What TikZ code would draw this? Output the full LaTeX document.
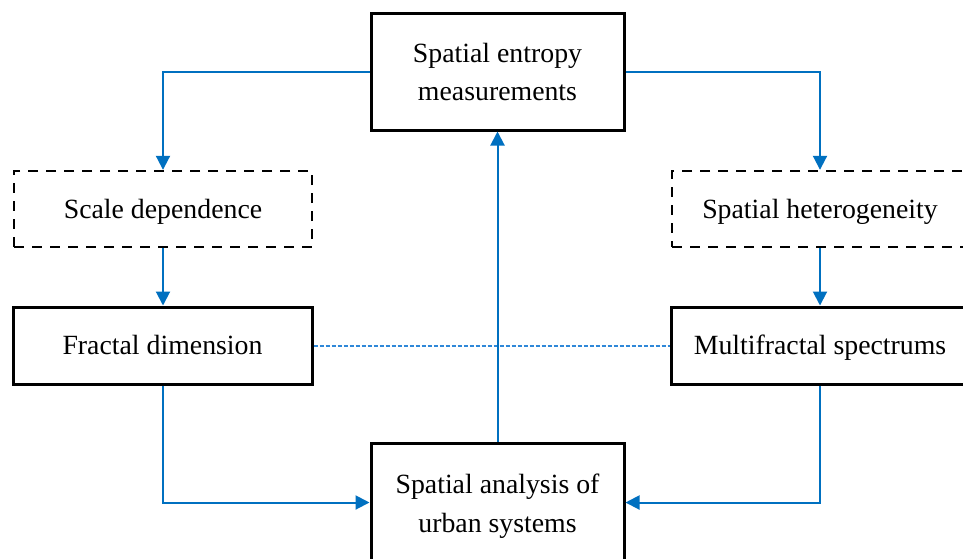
\documentclass[tikz,border=0pt]{standalone}
\usepackage{fontspec}
\setmainfont{Liberation Serif}
\usetikzlibrary{arrows.meta}
\definecolor{lineblue}{HTML}{0070C0}
\definecolor{dotblue}{HTML}{2F88D8}
\tikzset{
  txt/.style={inner sep=0pt,anchor=base,font=\fontsize{27.8}{38.5}\selectfont},
  box/.style={draw=black,line width=3pt,inner sep=0pt},
  dbox/.style={draw=black,line width=2.4pt,dash pattern=on 10pt off 8pt,inner sep=0pt,
    font=\fontsize{27.8}{38.5}\selectfont,text height=25pt,text depth=7pt},
  sbox/.style={box,font=\fontsize{27.8}{38.5}\selectfont,text height=25pt,text depth=7pt},
  arr/.style={draw=lineblue,line width=2pt,-{Triangle[length=14pt,width=14pt]}},
  uparr/.style={draw=lineblue,line width=2pt,-{Triangle[length=14pt,width=14pt]}},
  dotline/.style={draw=dotblue,line width=2pt,dash pattern=on 4pt off 2pt}}
\begin{document}
\begin{tikzpicture}[x=1pt,y=-1pt]
\useasboundingbox (0,0) rectangle (963,558);
\clip (0,0) rectangle (963,558);
\fill[white] (0,0) rectangle (963,558);
\node[box,minimum width=253pt,minimum height=117pt] (top) at (497.5,71.5) {};
\node[txt] (top1) at (497.5,62) {Spatial entropy};
\node[txt] (top2) at (497.5,100) {measurements};
\node[dbox,minimum width=298pt,minimum height=76pt] (sd) at (163,209) {Scale dependence};
\node[dbox,minimum width=296pt,minimum height=76pt] (sh) at (820,209) {Spatial heterogeneity};
\node[sbox,minimum width=299pt,minimum height=77pt] (fd) at (162.5,345.5) {Fractal dimension};
\node[sbox,minimum width=298pt,minimum height=77pt] (ms) at (820,345.5) {Multifractal spectrums};
\node[box,minimum width=253pt,minimum height=119pt] (ua) at (497.5,502.5) {};
\node[txt] (ua1) at (497.5,493) {Spatial analysis of};
\node[txt] (ua2) at (497.5,532) {urban systems};
\draw[arr] (top.west) -| (sd.north);
\draw[arr] (top.east) -| (sh.north);
\draw[arr] (sd.south) -- (sd.south |- fd.north);
\draw[arr] (sh.south) -- (sh.south |- ms.north);
\draw[dotline] (fd.east) -- (ms.west);
\draw[arr] (fd.south) |- (ua.west);
\draw[arr] (ms.south) |- (ua.east);
\draw[uparr] (ua.north) -- (top.south);
\end{tikzpicture}
\end{document}
